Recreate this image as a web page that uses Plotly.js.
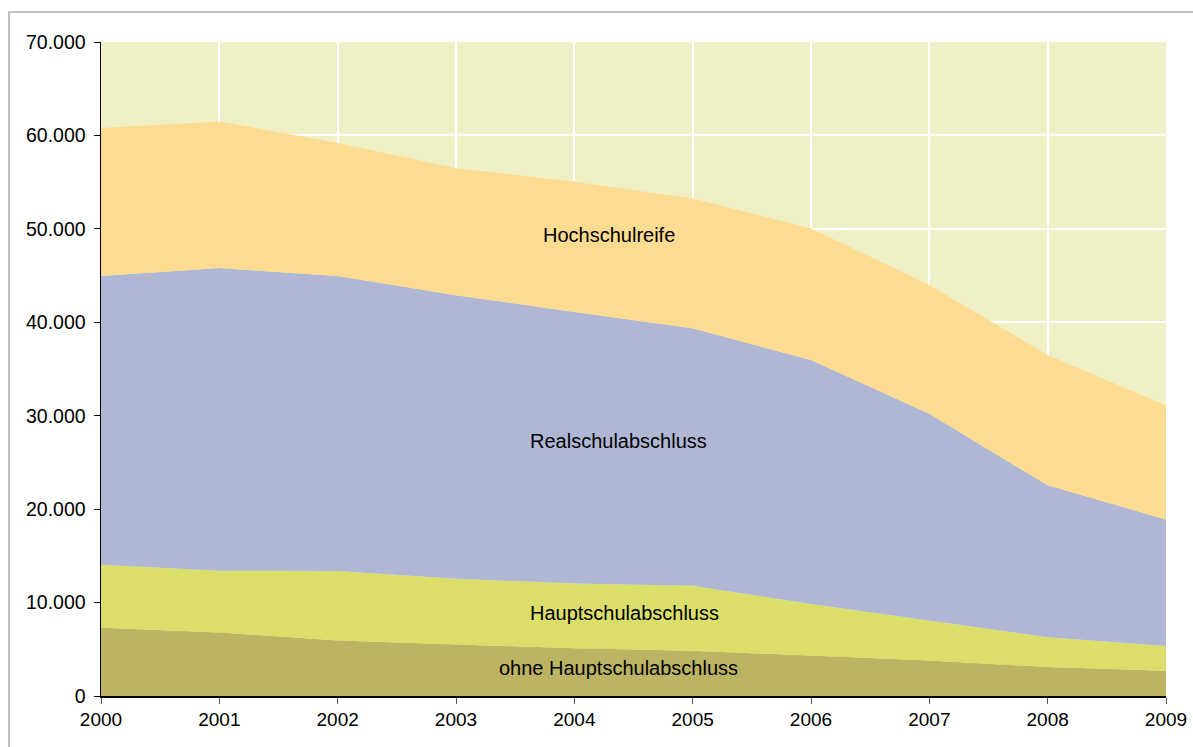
<!DOCTYPE html>
<html>
<head>
<meta charset="utf-8">
<script src="https://cdn.plot.ly/plotly-3.0.1.min.js"></script>
<style>html,body{margin:0;padding:0;background:#fff;}#chart{width:1193px;height:747px;}</style>
</head>
<body>
<div id="chart"></div>
<script>
const years = [2000, 2001, 2002, 2003, 2004, 2005, 2006, 2007, 2008, 2009];
const ohneHauptschulabschluss = [7300, 6800, 5950, 5500, 5100, 4850, 4350, 3800, 3100, 2700];
const hauptschulabschluss = [6750, 6600, 7430, 7050, 6950, 6950, 5500, 4300, 3200, 2650];
const realschulabschluss = [30900, 32400, 31570, 30350, 29050, 27550, 26100, 22100, 16250, 13550];
const hochschulreife = [15850, 15700, 14250, 13600, 13950, 13900, 14100, 13800, 13950, 12200];
const seriesNames = ["ohne Hauptschulabschluss", "Hauptschulabschluss", "Realschulabschluss", "Hochschulreife"];
const yTicks = [0, 10000, 20000, 30000, 40000, 50000, 60000, 70000];

const colors = ["#BBB463", "#DBDF6A", "#B0B7D4", "#FDDB91"];
const values = [ohneHauptschulabschluss, hauptschulabschluss, realschulabschluss, hochschulreife];

const traces = values.map((v, i) => ({
  x: years, y: v, name: seriesNames[i], type: "scatter", mode: "lines",
  stackgroup: "one", fillcolor: colors[i], line: {width: 0, color: colors[i]},
  hoverinfo: "x+y+name"
}));

const annotations = [
  {text: seriesNames[3], x: 2004.29, y: 49300},
  {text: seriesNames[2], x: 2004.37, y: 27300},
  {text: seriesNames[1], x: 2004.42, y: 8850},
  {text: seriesNames[0], x: 2004.37, y: 2950}
].map(a => Object.assign(a, {xref: "x", yref: "y", showarrow: false,
  font: {family: "Liberation Sans, Arial, sans-serif", size: 20, color: "#000"}}));

const layout = {
  width: 1193, height: 747,
  margin: {l: 101, r: 27, t: 42, b: 51},
  paper_bgcolor: "#ffffff",
  plot_bgcolor: "#EFF0C6",
  separators: ",.",
  showlegend: false,
  font: {family: "Liberation Sans, Arial, sans-serif", size: 19, color: "#000"},
  xaxis: {
    range: [2000, 2009], tickvals: years, ticktext: years.map(String),
    showgrid: true, gridcolor: "#ffffff", gridwidth: 2,
    showline: true, linecolor: "#000", linewidth: 1.5,
    ticks: "outside", ticklen: 6, tickcolor: "#555", tickwidth: 1,
    zeroline: false, layer: "above traces",
    tickfont: {size: 19}
  },
  yaxis: {
    range: [0, 70000], tickvals: yTicks, tickformat: ",d",
    showgrid: true, gridcolor: "#ffffff", gridwidth: 2,
    showline: true, linecolor: "#000", linewidth: 1.5,
    ticks: "outside", ticklen: 6, tickcolor: "#000", tickwidth: 1,
    ticklabelstandoff: 4,
    zeroline: false, layer: "above traces",
    tickfont: {size: 19.5}
  },
  annotations: annotations,
  shapes: [
    {type: "rect", xref: "paper", yref: "paper",
     x0: (9 - 101) / 1065, x1: 1.2, y0: -0.3, y1: (696 - 12) / 654,
     line: {color: "#C0C0C0", width: 2}, fillcolor: "rgba(0,0,0,0)", layer: "below"}
  ]
};

Plotly.newPlot("chart", traces, layout, {displayModeBar: false, staticPlot: true});
</script>
</body>
</html>
